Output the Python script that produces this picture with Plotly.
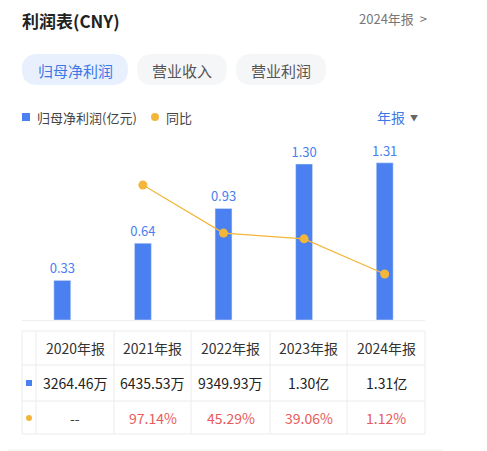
import plotly.graph_objects as go

# data
years = ["2020年报", "2021年报", "2022年报", "2023年报", "2024年报"]
profit = [0.33, 0.64, 0.93, 1.30, 1.31]          # 归母净利润 (亿元)
yoy = [None, 97.14, 45.29, 39.06, 1.12]           # 同比 (%)
profit_text = ["3264.46万", "6435.53万", "9349.93万", "1.30亿", "1.31亿"]
yoy_text = ["--", "97.14%", "45.29%", "39.06%", "1.12%"]
tabs = ["归母净利润", "营业收入", "营业利润"]

# page has an 8px body margin, so the figure is drawn 8px in and sized to fit
OFF = 8
W, H = 487 - OFF, 451 - OFF
BLUE = "#4a80f0"
ORANGE = "#f4b63a"
RED = "#e85a5a"
GRID = "#ececec"
FONT = "Noto Sans CJK SC"

# table geometry (screen pixels)
col_edges = [22, 36, 114, 191, 270, 347, 425]
row_edges = [331, 365, 401, 434]


def py(p):
    # screen pixel row -> paper y
    return 1 - (p - OFF) / H


def px(p):
    return (p - OFF) / W


def pill(x0, x1, y0, y1, color):
    r = (y1 - y0) / 2
    a, b = px(x0), px(x1)
    t, u = py(y0), py(y1)
    rx, ry = r / W, r / H
    path = (f"M {a+rx},{u} L {b-rx},{u} "
            f"Q {b},{u} {b},{u+ry} L {b},{t-ry} Q {b},{t} {b-rx},{t} "
            f"L {a+rx},{t} Q {a},{t} {a},{t-ry} L {a},{u+ry} Q {a},{u} {a+rx},{u} Z")
    return dict(type="path", path=path, xref="paper", yref="paper",
                fillcolor=color, line=dict(width=0), layer="below")


fig = go.Figure()

fig.add_trace(go.Bar(
    x=years, y=profit, width=0.21, marker_color=BLUE,
    text=[f"{v:.2f}" for v in profit], textposition="outside",
    constraintext="none",
    textfont=dict(color=BLUE, size=13, family=FONT), cliponaxis=False,
    hoverinfo="skip",
))
fig.add_trace(go.Scatter(
    x=years, y=yoy, yaxis="y2", mode="lines+markers",
    line=dict(color=ORANGE, width=1.2), marker=dict(color=ORANGE, size=9),
    hoverinfo="skip",
))

shapes = [
    pill(22, 128, 54, 85, "#e8f0fe"),
    pill(137, 227, 54, 85, "#f5f6f7"),
    pill(236, 326, 54, 85, "#f5f6f7"),
    dict(type="rect", xref="paper", yref="paper", x0=px(22), x1=px(30),
         y0=py(121), y1=py(113), fillcolor=BLUE, line=dict(width=0)),
    dict(type="circle", xref="paper", yref="paper", x0=px(151), x1=px(159),
         y0=py(121), y1=py(113), fillcolor=ORANGE, line=dict(width=0)),
    dict(type="line", xref="paper", yref="paper", x0=px(OFF), x1=px(443),
         y0=py(450), y1=py(450), line=dict(color="#eeeeee", width=1)),
    # table row markers
    dict(type="rect", xref="paper", yref="paper", x0=px(26), x1=px(32),
         y0=py(386), y1=py(380), fillcolor=BLUE, line=dict(width=0)),
    dict(type="circle", xref="paper", yref="paper", x0=px(26), x1=px(32),
         y0=py(421), y1=py(415), fillcolor=ORANGE, line=dict(width=0)),
]
for x in col_edges:
    shapes.append(dict(type="line", xref="paper", yref="paper", x0=px(x), x1=px(x),
                       y0=py(row_edges[0]), y1=py(row_edges[-1]),
                       line=dict(color=GRID, width=1)))
for y in row_edges:
    shapes.append(dict(type="line", xref="paper", yref="paper", x0=px(col_edges[0]),
                       x1=px(col_edges[-1]), y0=py(y), y1=py(y),
                       line=dict(color=GRID, width=1)))

ann = [
    dict(text="<b>利润表(CNY)</b>", x=px(21), y=py(20), xanchor="left",
         font=dict(size=17, color="#222222")),
    dict(text="2024年报  >", x=px(428), y=py(19), xanchor="right",
         font=dict(size=13, color="#777777")),
    dict(text="归母净利润(亿元)", x=px(36), y=py(117), xanchor="left",
         font=dict(size=13, color="#444444")),
    dict(text="同比", x=px(165), y=py(117), xanchor="left",
         font=dict(size=13, color="#444444")),
    dict(text="年报", x=px(376), y=py(117), xanchor="left",
         font=dict(size=14, color="#3c78e6")),
    dict(text="▼", x=px(414), y=py(118), xanchor="center",
         font=dict(size=8, color="#666666")),
]
for i, (t, x0, x1) in enumerate(zip(tabs, [22, 137, 236], [128, 227, 326])):
    ann.append(dict(text=t, x=px((x0 + x1) / 2), y=py(70), xanchor="center",
                    font=dict(size=15, color="#3c78e6" if i == 0 else "#555555")))

# table text
for j, (yr, pt, yt) in enumerate(zip(years, profit_text, yoy_text)):
    cx = px((col_edges[j + 1] + col_edges[j + 2]) / 2)
    ann.append(dict(text=yr, x=cx, y=py(348), xanchor="center",
                    font=dict(size=14, color="#333333")))
    ann.append(dict(text=pt, x=cx, y=py(383), xanchor="center",
                    font=dict(size=14, color="#222222")))
    ann.append(dict(text=yt, x=cx, y=py(418), xanchor="center",
                    font=dict(size=14, color="#444444" if yt == "--" else RED)))

for a in ann:
    a.update(xref="paper", yref="paper", yanchor="middle", showarrow=False,
             borderpad=0)
    a["font"].setdefault("family", FONT)

fig.update_layout(
    width=W, height=H, margin=dict(l=0, r=0, t=0, b=0),
    paper_bgcolor="white", plot_bgcolor="white", showlegend=False,
    font=dict(family=FONT),
    xaxis=dict(domain=[px(22), px(425)], showticklabels=False, showgrid=False,
               zeroline=False, showline=True, linecolor="#eeeeee", linewidth=1,
               fixedrange=True),
    yaxis=dict(domain=[py(320), py(140)], range=[0, 1.5], visible=False,
               fixedrange=True),
    yaxis2=dict(overlaying="y", range=[-48.5, 145.7], visible=False,
                fixedrange=True),
    shapes=shapes, annotations=ann,
)

fig.write_html("out.html")
